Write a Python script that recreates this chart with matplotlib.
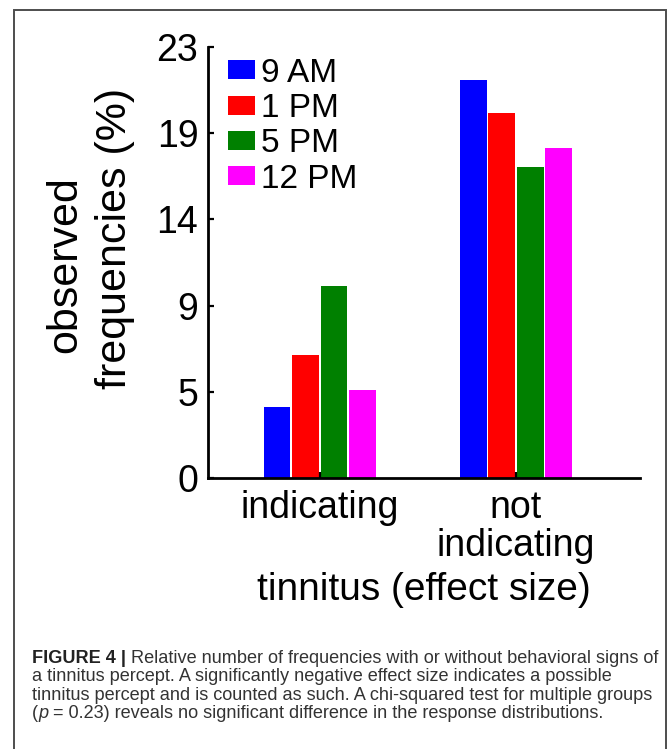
import numpy as np
import matplotlib
matplotlib.use('Agg')
import matplotlib.pyplot as plt
from matplotlib import font_manager
from matplotlib.patches import Rectangle

# data
groups = ['indicating', 'not\nindicating']
times = ['9 AM', '1 PM', '5 PM', '12 PM']
am9 = [3.85, 21.6]
pm1 = [6.7, 19.8]
pm5 = [10.4, 16.9]
pm12 = [4.8, 17.9]
colors = ['#0000ff', '#ff0000', '#008000', '#ff00ff']
ytick_labels = ['0', '5', '9', '14', '19', '23']
y_top = 23.4

caption = [
    ('FIGURE 4 |', ' Relative number of frequencies with or without behavioral signs of'),
    ('', 'a tinnitus percept. A significantly negative effect size indicates a possible'),
    ('', 'tinnitus percept and is counted as such. A chi-squared test for multiple groups'),
]
caption_last = ['(', 'p', ' = 0.23) reveals no significant difference in the response distributions.']

plt.rcParams['font.family'] = ['Liberation Sans', 'DejaVu Sans']
names = set(f.name for f in font_manager.fontManager.ttflist)
cap_font = 'Liberation Sans Narrow' if 'Liberation Sans Narrow' in names else 'Liberation Sans'
cap_size = 15.5 if cap_font == 'Liberation Sans Narrow' else 13.1

W, H = 670, 749
fig = plt.figure(figsize=(W / 100, H / 100), dpi=100)
ax = fig.add_axes([208 / W, 1 - 478 / H, 432 / W, 431 / H])

x = np.arange(len(groups))
step = 0.1454
series = [am9, pm1, pm5, pm12]
for i, (vals, c, lab) in enumerate(zip(series, colors, times)):
    ax.bar(x + (i - 1.5) * step, vals, width=0.136, color=c, label=lab, linewidth=0)

ax.set_xlim(-0.571, 1.633)
ax.set_ylim(0, y_top)
ax.set_yticks(np.linspace(0, y_top, len(ytick_labels)))
ax.set_yticklabels(ytick_labels)
ax.set_xticks(x)
ax.set_xticklabels(groups, linespacing=1.05, va='top')
for s in ['top', 'right']:
    ax.spines[s].set_visible(False)
for s in ['left', 'bottom']:
    ax.spines[s].set_linewidth(2)
ax.tick_params(direction='in', length=4, width=1.6, labelsize=27, pad=7)
ax.tick_params(axis='x', pad=9)
ax.set_xlabel('tinnitus (effect size)', fontsize=28, labelpad=6)

fig.text(65 / W, 1 - 265 / H, 'observed', rotation=90, ha='center', va='center', fontsize=31)
fig.text(115 / W, 1 - 238 / H, 'frequencies (%)', rotation=90, ha='center', va='center', fontsize=31)

ax.legend(loc='upper left', bbox_to_anchor=(0.046, 0.975), frameon=False, fontsize=24,
          handlelength=0.8, handleheight=0.5, handletextpad=0.2, labelspacing=0.13,
          borderpad=0, borderaxespad=0)

# border around the panel
fig.add_artist(Rectangle((14 / W, -0.05), (666 - 14) / W, 1.05 - 10 / H, transform=fig.transFigure,
                         fill=False, edgecolor='#4d4d4d', linewidth=1.4))

# caption
x0 = 32 / W
baselines = [663, 681, 700, 718]
fig.canvas.draw()
r = fig.canvas.get_renderer()
for (bold, rest), yb in zip(caption, baselines):
    xx = x0
    if bold:
        t = fig.text(xx, 1 - yb / H, bold, fontsize=cap_size, weight='bold', va='baseline',
                     family=[cap_font, 'Liberation Sans'], color='#222222')
        xx = fig.transFigure.inverted().transform(t.get_window_extent(r))[1][0]
    fig.text(xx, 1 - yb / H, rest, fontsize=cap_size, va='baseline',
             family=[cap_font, 'Liberation Sans'], color='#333333')
xx = x0
for k, part in enumerate(caption_last):
    t = fig.text(xx, 1 - baselines[3] / H, part, fontsize=cap_size, va='baseline',
                 style='italic' if k == 1 else 'normal',
                 family=[cap_font, 'Liberation Sans'], color='#333333')
    xx = fig.transFigure.inverted().transform(t.get_window_extent(r))[1][0]

fig.savefig('out.png', dpi=100)
